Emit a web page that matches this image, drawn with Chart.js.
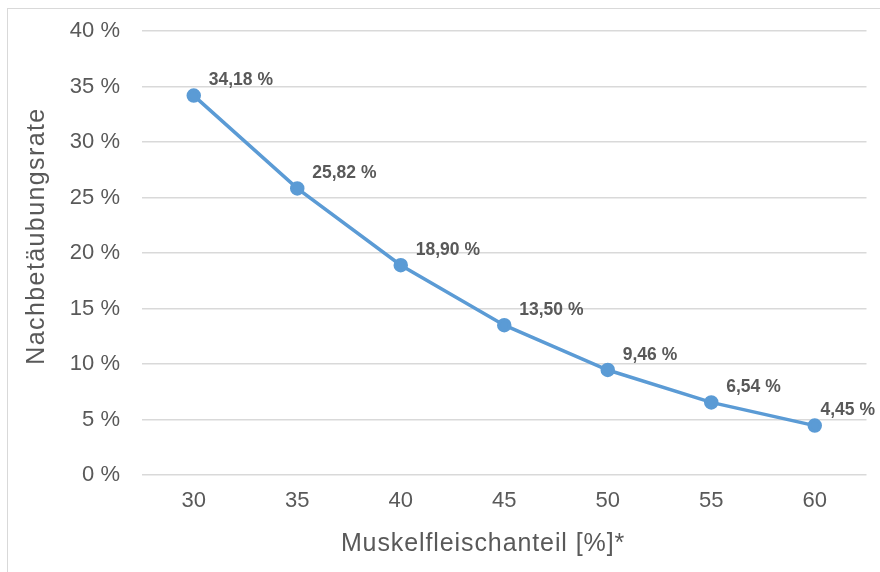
<!DOCTYPE html>
<html>
<head>
<meta charset="utf-8">
<script src="https://cdn.jsdelivr.net/npm/chart.js@4"></script>
<style>
  body { margin: 0; background: #ffffff; }
  #wrap { position: relative; width: 880px; height: 572px; }
</style>
</head>
<body>
<div id="wrap"><canvas id="chart" width="880" height="572"></canvas></div>
<script>
// Nachbetäubungsrate je Muskelfleischanteil
const anteile = ['30', '35', '40', '45', '50', '55', '60'];
const raten = [34.18, 25.82, 18.90, 13.50, 9.46, 6.54, 4.45];
const yTicks = [0, 5, 10, 15, 20, 25, 30, 35, 40];
const xTitel = 'Muskelfleischanteil [%]*';
const yTitel = 'Nachbetäubungsrate';

const grau = '#595959';
const blau = '#5B9BD5';
const schrift = '"Liberation Sans", Arial, sans-serif';

const fmt = v => v.toFixed(2).replace('.', ',') + ' %';

// Rahmen, Achsentitel und Wertbeschriftungen
const extras = {
    id: 'extras',
    beforeDraw(chart) {
        const ctx = chart.ctx;
        ctx.save();
        ctx.strokeStyle = '#d9d9d9';
        ctx.lineWidth = 1;
        ctx.strokeRect(7.5, 8.5, 900, 600);
        ctx.restore();
    },
    afterDraw(chart) {
        const ctx = chart.ctx;
        ctx.save();
        ctx.fillStyle = grau;
        ctx.font = '25px ' + schrift;
        ctx.textAlign = 'center';
        ctx.textBaseline = 'middle';
        ctx.letterSpacing = '0.9px';
        ctx.fillText(xTitel, 483, 544);
        ctx.letterSpacing = '1.4px';
        ctx.translate(37, 236);
        ctx.rotate(-Math.PI / 2);
        ctx.fillText(yTitel, 0, 0);
        ctx.restore();

        ctx.save();
        ctx.fillStyle = grau;
        ctx.font = 'bold 17.5px ' + schrift;
        ctx.textAlign = 'left';
        ctx.textBaseline = 'middle';
        const meta = chart.getDatasetMeta(0);
        meta.data.forEach((pt, i) => {
            const txt = fmt(raten[i]);
            const w = ctx.measureText(txt).width;
            let x = pt.x + 15;
            if (x + w > 875) x = 875 - w;
            ctx.fillText(txt, x, pt.y - 15);
        });
        ctx.restore();
    }
};

const ctx = document.getElementById('chart').getContext('2d');
new Chart(ctx, {
    type: 'line',
    data: {
        labels: anteile,
        datasets: [{
            data: raten,
            borderColor: blau,
            backgroundColor: blau,
            borderWidth: 3.5,
            pointRadius: 5.5,
            pointBackgroundColor: blau,
            pointBorderColor: blau,
            tension: 0
        }]
    },
    options: {
        responsive: false,
        animation: false,
        layout: { padding: { left: 0, right: 13.5, top: 31, bottom: 0 } },
        plugins: {
            legend: { display: false },
            tooltip: { enabled: false }
        },
        scales: {
            x: {
                offset: true,
                grid: { display: false, drawTicks: false },
                border: { display: false },
                ticks: { color: grau, font: { family: schrift, size: 22 }, padding: 13, maxRotation: 0 },
                afterFit(scale) {
                    scale.height = 97;
                    scale.paddingLeft = 0;
                    scale.paddingRight = 0;
                }
            },
            y: {
                min: 0,
                max: 40,
                afterBuildTicks(scale) { scale.ticks = yTicks.map(v => ({ value: v })); },
                grid: { color: '#d9d9d9', lineWidth: 1.5, drawTicks: false },
                border: { display: false },
                ticks: {
                    color: grau,
                    font: { family: schrift, size: 22 },
                    padding: 22,
                    callback: v => v + ' %'
                },
                afterFit(scale) {
                    scale.width = 142;
                    scale.paddingTop = 0;
                    scale.paddingBottom = 0;
                }
            }
        }
    },
    plugins: [extras]
});
</script>
</body>
</html>
